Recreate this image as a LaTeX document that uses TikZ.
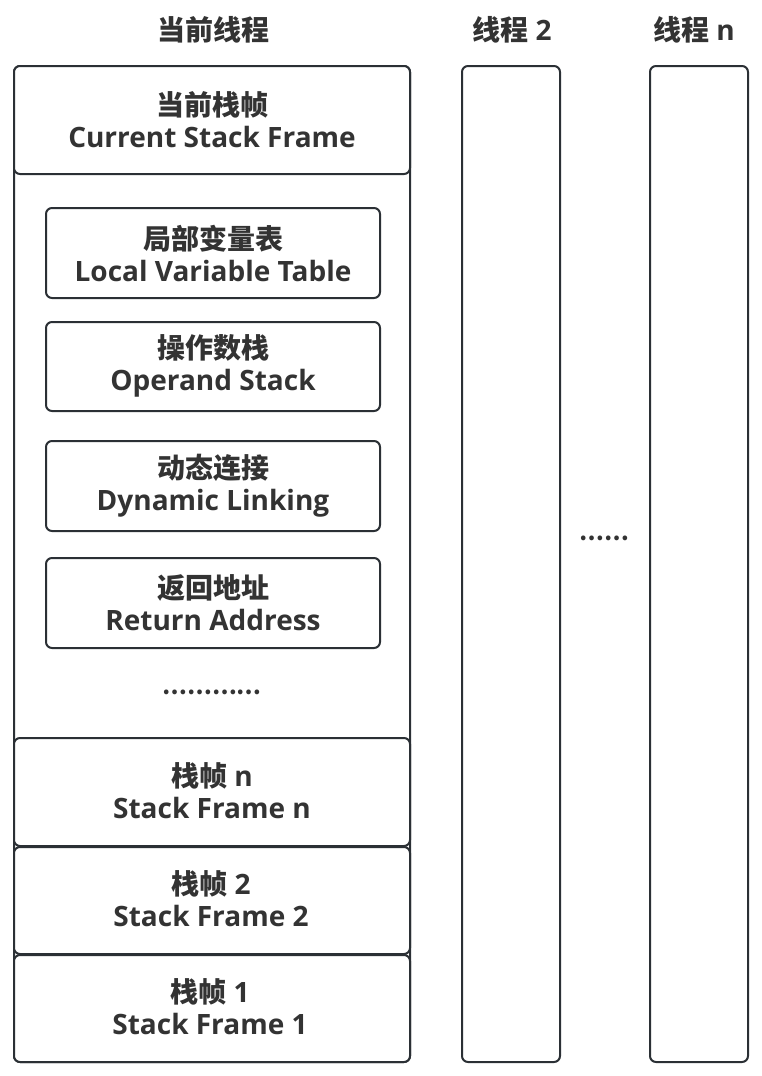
\documentclass[tikz,border=0pt]{standalone}
\usepackage{fontspec}
\setmainfont{Open Sans}
\newfontfamily\cjk{Noto Sans CJK SC}
\definecolor{ln}{HTML}{2B3035}
\definecolor{tx}{HTML}{333333}
\newcommand{\zh}[1]{{\cjk\fontsize{28}{32}\selectfont #1}}
\newcommand{\zhdots}[1]{{\cjk\fontsize{22}{32}\selectfont #1}}
\begin{document}
\begin{tikzpicture}[x=1pt,y=-1pt,
  box/.style={draw=ln,line width=2pt,rounded corners=6pt,fill=white},
  lbl/.style={align=center,font=\bfseries\fontsize{28}{32}\selectfont,text=tx,inner sep=0pt},
  ttl/.style={font=\bfseries\fontsize{28}{30}\selectfont,text=tx,inner sep=0pt}]
\useasboundingbox (0,0) rectangle (762,1076);
% titles
\node[ttl] (t1) at (213,30) {\zh{当前线程}};
\node[ttl] (t2) at (512,30) {\zh{线程} 2};
\node[ttl] (tn) at (694,30) {\zh{线程} n};
% outer current thread
\draw[box] (14,66) rectangle (410,1062);
\draw[box] (14,66) rectangle (410,174);
\node[lbl] (cur) at (212,120) {\zh{当前栈帧}\\Current Stack Frame};
% inner boxes
\draw[box] (46,208) rectangle (380,298);
\node[lbl] (lvt) at (213,253) {\zh{局部变量表}\\Local Variable Table};
\draw[box] (46,322) rectangle (380,411);
\node[lbl] (ops) at (213,366) {\zh{操作数栈}\\Operand Stack};
\draw[box] (46,441) rectangle (380,531);
\node[lbl] (dyn) at (213,486) {\zh{动态连接}\\Dynamic Linking};
\draw[box] (46,558) rectangle (380,648);
\node[lbl] (ret) at (213,603) {\zh{返回地址}\\Return Address};
\node[lbl] (dots1) at (212,692) {\zhdots{…………}};
% frames
\draw[box] (14,738) rectangle (410,846);
\node[lbl] (fn) at (212,791) {\zh{栈帧} n\\Stack Frame n};
\draw[box] (14,847) rectangle (410,954);
\node[lbl] (f2) at (211,899) {\zh{栈帧} 2\\Stack Frame 2};
\draw[box] (14,955) rectangle (410,1062);
\node[lbl] (f1) at (210,1007) {\zh{栈帧} 1\\Stack Frame 1};
% other threads
\draw[box] (462,66) rectangle (560,1062);
\draw[box] (650,66) rectangle (748,1062);
\node[lbl] (dots2) at (604,538) {\zhdots{……}};
\end{tikzpicture}
\end{document}
